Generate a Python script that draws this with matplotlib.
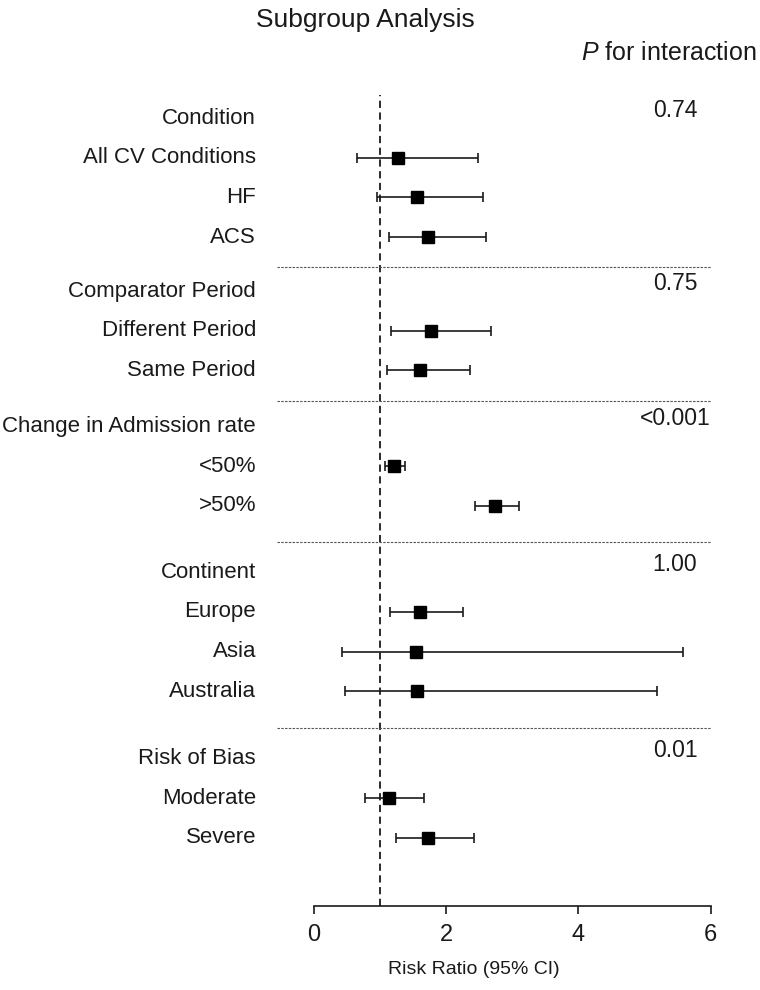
import numpy as np
import matplotlib
matplotlib.use("Agg")
import matplotlib.pyplot as plt

plt.rcParams['font.family'] = ['Liberation Sans', 'DejaVu Sans']
plt.rcParams['mathtext.fontset'] = 'custom'
plt.rcParams['mathtext.it'] = 'Liberation Sans:italic'
plt.rcParams['mathtext.rm'] = 'Liberation Sans'

# subgroup data
groups = ['Condition', 'Comparator Period', 'Change in Admission rate', 'Continent', 'Risk of Bias']
p_interaction = ['0.74', '0.75', '<0.001', '1.00', '0.01']
subgroups = [
    ['All CV Conditions', 'HF', 'ACS'],
    ['Different Period', 'Same Period'],
    ['<50%', '>50%'],
    ['Europe', 'Asia', 'Australia'],
    ['Moderate', 'Severe'],
]
rr = [
    [1.27, 1.56, 1.72],
    [1.77, 1.61],
    [1.21, 2.74],
    [1.61, 1.54, 1.56],
    [1.13, 1.72],
]
ci_low = [
    [0.65, 0.95, 1.14],
    [1.16, 1.10],
    [1.07, 2.43],
    [1.15, 0.43, 0.47],
    [0.77, 1.24],
]
ci_high = [
    [2.48, 2.56, 2.60],
    [2.68, 2.36],
    [1.37, 3.10],
    [2.26, 5.58, 5.19],
    [1.66, 2.42],
]
xticks = [0, 2, 4, 6]

# layout: gap (in rows) between last row of a group and next header
gap_before = [0, 1.36, 1.41, 1.67, 1.69]

fig = plt.figure(figsize=(7.6, 9.9), dpi=100)
ax = fig.add_axes([314 / 760, 1 - 906 / 990, 396.7 / 760, (906 - 95) / 990])

ink = '#1a1a1a'
label_x = -0.877
p_x = 5.46

y = 0.0
last = None
for g in range(len(groups)):
    if g > 0:
        y = last + gap_before[g]
        sep = (last + y) / 2 + 0.075
        ax.plot([-0.56, 6.0], [sep, sep], color='#555555', lw=0.8,
                linestyle=(0, (2.2, 1.2)), clip_on=False)
    ax.text(label_x, y, groups[g], ha='right', va='center', fontsize=16, color=ink, clip_on=False)
    ax.text(p_x, y - 0.2, p_interaction[g], ha='center', va='center', fontsize=16.5, color=ink, clip_on=False)
    for i, name in enumerate(subgroups[g]):
        y += 1
        ax.text(label_x, y, name, ha='right', va='center', fontsize=16, color=ink, clip_on=False)
        err = [[rr[g][i] - ci_low[g][i]], [ci_high[g][i] - rr[g][i]]]
        ax.errorbar(rr[g][i], y, xerr=err, fmt='s', color=ink, mfc='black', mec='black',
                    ms=8.5, elinewidth=1.2, capsize=3.3, capthick=1.2, zorder=3)
    last = y

ax.axvline(1, color=ink, lw=1.3, linestyle=(0, (4, 2.5)), zorder=1)

ax.set_xlim(0, 6)
ax.set_ylim(19.85, -0.58)
ax.set_xticks(xticks)
ax.set_xticklabels([str(t) for t in xticks])
ax.tick_params(axis='x', length=6, width=1.2, pad=7, labelsize=17, colors=ink)
ax.set_yticks([])
for s in ['top', 'right', 'left']:
    ax.spines[s].set_visible(False)
ax.spines['bottom'].set_linewidth(1.2)
ax.spines['bottom'].set_color(ink)

fig.text(365 / 760, 1 - 27 / 990, 'Subgroup Analysis', ha='center', va='baseline', fontsize=19, color=ink)
fig.text(757 / 760, 1 - 60 / 990, r'$\it{P}$ for interaction', ha='right', va='baseline', fontsize=18, color=ink)
fig.text(474 / 760, 1 - 970 / 990, 'Risk Ratio (95% CI)', ha='center', va='center', fontsize=14, color=ink)

fig.savefig('out.png', dpi=100, facecolor='white')
